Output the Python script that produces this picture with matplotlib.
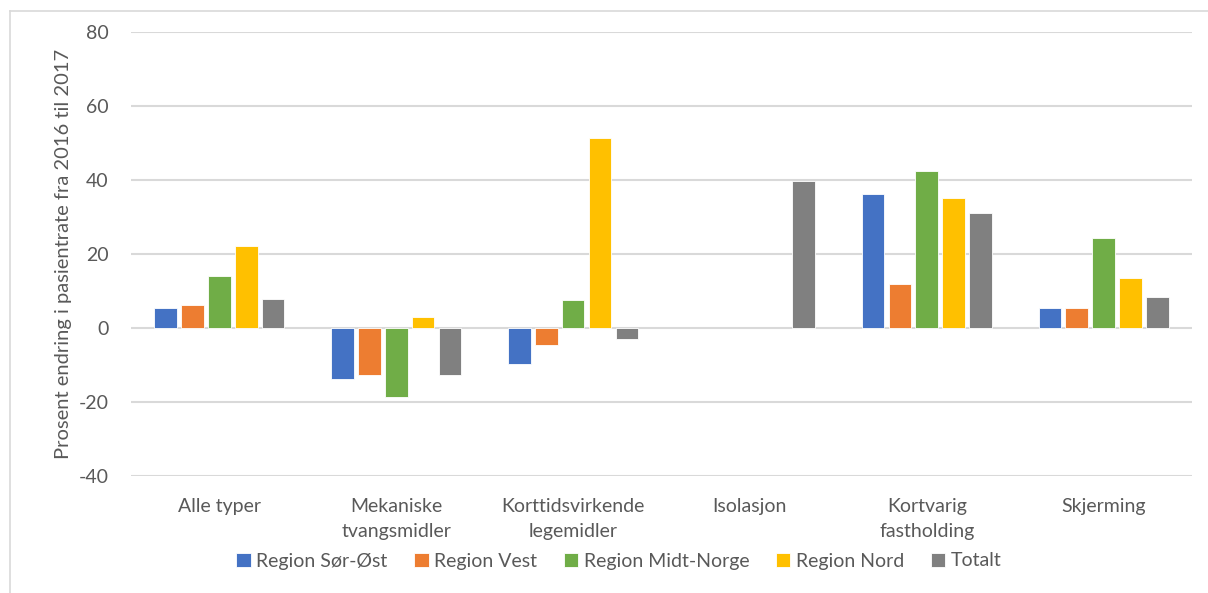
import numpy as np
import matplotlib.pyplot as plt
from matplotlib.lines import Line2D

categories = ['Alle typer', 'Mekaniske\ntvangsmidler', 'Korttidsvirkende\nlegemidler',
              'Isolasjon', 'Kortvarig\nfastholding', 'Skjerming']
series_names = ['Region Sør-Øst', 'Region Vest', 'Region Midt-Norge', 'Region Nord', 'Totalt']
sor_ost = [5.4, -13.8, -9.6, np.nan, 36.3, 5.5]
vest = [6.3, -12.6, -4.6, np.nan, 11.9, 5.5]
midt_norge = [14.1, -18.7, 7.5, np.nan, 42.3, 24.3]
nord = [22.2, 2.9, 51.3, np.nan, 35.2, 13.4]
totalt = [7.9, -12.8, -3.0, 39.6, 31.0, 8.4]
colors = ['#4472C4', '#ED7D31', '#70AD47', '#FFC000', '#808080']

plt.rcParams['font.family'] = ['Lato', 'DejaVu Sans']
plt.rcParams['axes.unicode_minus'] = False
text_col = '#595959'
fs = 14

fig = plt.figure(figsize=(12.08, 5.93), dpi=100)
ax = fig.add_axes([131 / 1208, 1 - 476 / 593, 1061 / 1208, 444 / 593])

x = np.arange(len(categories))
step = 0.152
width = 0.128
all_series = [sor_ost, vest, midt_norge, nord, totalt]
for i, (vals, name, c) in enumerate(zip(all_series, series_names, colors)):
    ax.bar(x + (i - 2) * step, vals, width, color=c, label=name,
           edgecolor='white', linewidth=0.6, zorder=3)

ax.set_xlim(-0.5, len(categories) - 0.5)
ax.set_ylim(-40, 80)
ax.set_yticks(range(-40, 81, 20))
ax.set_xticks(x)
ax.set_xticklabels(categories, fontsize=fs, color=text_col, linespacing=1.55)
ax.tick_params(axis='y', labelsize=fs, labelcolor=text_col, length=0, pad=16)
ax.tick_params(axis='x', length=0, pad=16)
ax.grid(axis='y', color='#D9D9D9', linewidth=1.5, zorder=0)
for s in ax.spines.values():
    s.set_visible(False)
ax.set_ylabel('Prosent endring i pasientrate fra 2016 til 2017', fontsize=14.5,
              color=text_col, labelpad=5)

fig.legend(loc='center', bbox_to_anchor=(619 / 1208, 1 - 561 / 593), ncol=5,
           frameon=False, fontsize=fs, labelcolor=text_col,
           handlelength=0.75, handleheight=0.75, handletextpad=0.3, columnspacing=1.35)

# light chart border (left and top)
fig.add_artist(Line2D([9.5 / 1208, 9.5 / 1208], [0, 1 - 11 / 593], color='#D9D9D9', lw=1.2))
fig.add_artist(Line2D([9.5 / 1208, 1], [1 - 11 / 593, 1 - 11 / 593], color='#D9D9D9', lw=1.2))

fig.savefig('out.png', dpi=100)
